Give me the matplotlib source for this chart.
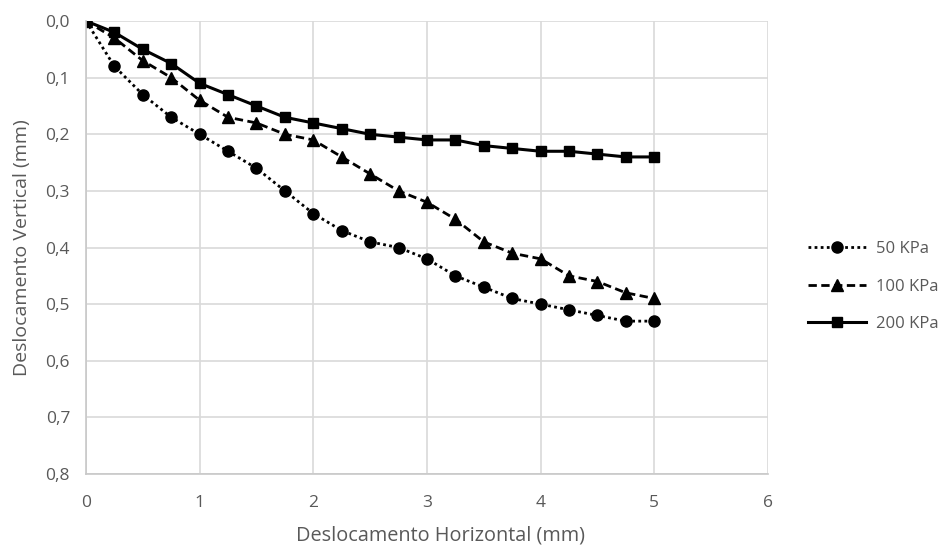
import matplotlib.pyplot as plt
from matplotlib.ticker import FuncFormatter

# ---- Data ----
x_mm = [0, 0.25, 0.5, 0.75, 1.0, 1.25, 1.5, 1.75, 2.0, 2.25, 2.5,
        2.75, 3.0, 3.25, 3.5, 3.75, 4.0, 4.25, 4.5, 4.75, 5.0]

v_50 = [0, 0.08, 0.13, 0.17, 0.20, 0.23, 0.26, 0.30, 0.34, 0.37, 0.39,
        0.40, 0.42, 0.45, 0.47, 0.49, 0.50, 0.51, 0.52, 0.53, 0.53]
v_100 = [0, 0.03, 0.07, 0.10, 0.14, 0.17, 0.18, 0.20, 0.21, 0.24, 0.27,
         0.30, 0.32, 0.35, 0.39, 0.41, 0.42, 0.45, 0.46, 0.48, 0.49]
v_200 = [0, 0.02, 0.05, 0.075, 0.11, 0.13, 0.15, 0.17, 0.18, 0.19, 0.20,
         0.205, 0.21, 0.21, 0.22, 0.225, 0.23, 0.23, 0.235, 0.24, 0.24]

labels = ["50 KPa", "100 KPa", "200 KPa"]

TEXT = "#595959"
GRID = "#d9d9d9"

plt.rcParams["font.family"] = ["Open Sans", "DejaVu Sans"]

fig = plt.figure(figsize=(9.43, 5.48), dpi=100)
ax = fig.add_axes([0.0912, 0.135, 0.7232, 0.8266])

ax.plot(x_mm, v_50, color="black", linestyle=(0, (1, 1.2)), linewidth=2,
        marker="o", markersize=8, label=labels[0])
ax.plot(x_mm, v_100, color="black", linestyle=(0, (3, 1.6)), linewidth=2,
        marker="^", markersize=8, label=labels[1])
ax.plot(x_mm, v_200, color="black", linestyle="-", linewidth=2.2,
        marker="s", markersize=7.5, label=labels[2])

ax.set_xlim(0, 6)
ax.set_ylim(0.8, 0)
ax.set_xticks(range(0, 7))
ax.set_yticks([i / 10 for i in range(9)])
ax.yaxis.set_major_formatter(FuncFormatter(lambda v, _: f"{v:.1f}".replace(".", ",")))

ax.grid(True, color=GRID, linewidth=1.2)
ax.set_axisbelow(True)
for side in ["top", "right"]:
    ax.spines[side].set_visible(False)
for side in ["left", "bottom"]:
    ax.spines[side].set_color("#c8c8c8")
    ax.spines[side].set_linewidth(1.2)
ax.tick_params(length=0, colors=TEXT, labelsize=12.5)
ax.tick_params(axis="x", pad=15)
ax.tick_params(axis="y", pad=11.5)

ax.set_xlabel("Deslocamento Horizontal (mm)", color=TEXT, fontsize=14.3)
ax.set_ylabel("Deslocamento Vertical (mm)", color=TEXT, fontsize=14)
ax.xaxis.set_label_coords(0.52, -0.135)
ax.xaxis.label.set_va("center")
ax.yaxis.set_label_coords(-0.094, 0.5)
ax.yaxis.label.set_va("center")

fig.legend(loc="center left", bbox_to_anchor=(0.857, 0.477), frameon=False,
           fontsize=12, labelcolor=TEXT, handlelength=3.5, handletextpad=0.6,
           labelspacing=1.3, borderpad=0, borderaxespad=0)

fig.savefig("out.png", dpi=100)
